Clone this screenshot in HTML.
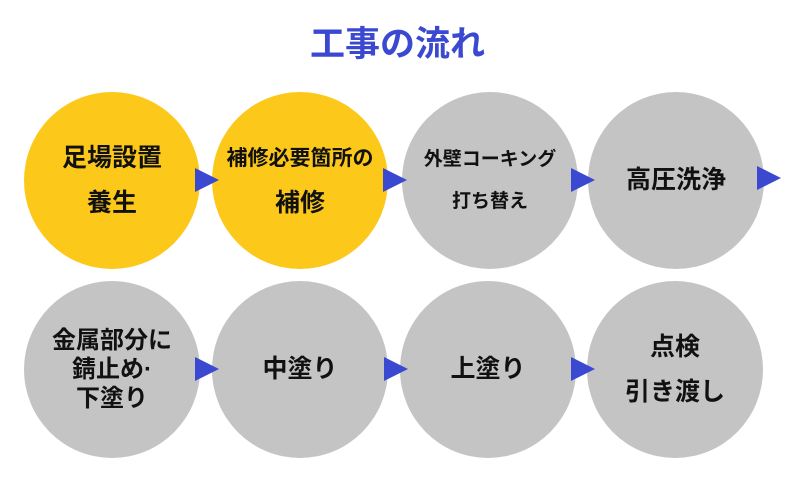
<!DOCTYPE html>
<html><head><meta charset="utf-8"><style>
body{margin:0;width:795px;height:477px;background:#fff;position:relative;overflow:hidden;font-family:"Liberation Sans","Noto Sans CJK JP",sans-serif}
.t{position:absolute;left:0;width:795px;top:22px;text-align:center;font-size:35px;font-weight:bold;color:#3b48d0;line-height:46px}
.c{position:absolute;width:176px;height:177px;border-radius:50%;display:flex;flex-direction:column;align-items:center;justify-content:center;font-size:25px;font-weight:bold;color:#111;line-height:45px;text-align:center}
.y{background:#fcc81a}.g{background:#c4c4c4}
.a{position:absolute;width:0;height:0;border-top:12px solid transparent;border-bottom:12px solid transparent;border-left:24px solid #3b48d0}
</style></head><body>
<div class="t">工事の流れ</div>
<div class="c y" style="left:24px;top:92px">足場設置<br>養生</div>
<div class="c y" style="left:212px;top:92px"><span style="font-size:21px">補修必要箇所の</span>補修</div>
<div class="c g" style="left:402px;top:92px;font-size:19px;line-height:42px">外壁コーキング<br>打ち替え</div>
<div class="c g" style="left:588px;top:92px">高圧洗浄</div>
<div class="c g" style="left:24px;top:281px;line-height:29px;font-size:24px">金属部分に<br>錆止め·<br>下塗り</div>
<div class="c g" style="left:212px;top:281px">中塗り</div>
<div class="c g" style="left:400px;top:281px">上塗り</div>
<div class="c g" style="left:587px;top:281px">点検<br>引き渡し</div>
<div class="a" style="left:195px;top:168px"></div>
<div class="a" style="left:383px;top:168px"></div>
<div class="a" style="left:571px;top:168px"></div>
<div class="a" style="left:757px;top:166px"></div>
<div class="a" style="left:195px;top:357px"></div>
<div class="a" style="left:384px;top:357px"></div>
<div class="a" style="left:571px;top:357px"></div>
</body></html>
